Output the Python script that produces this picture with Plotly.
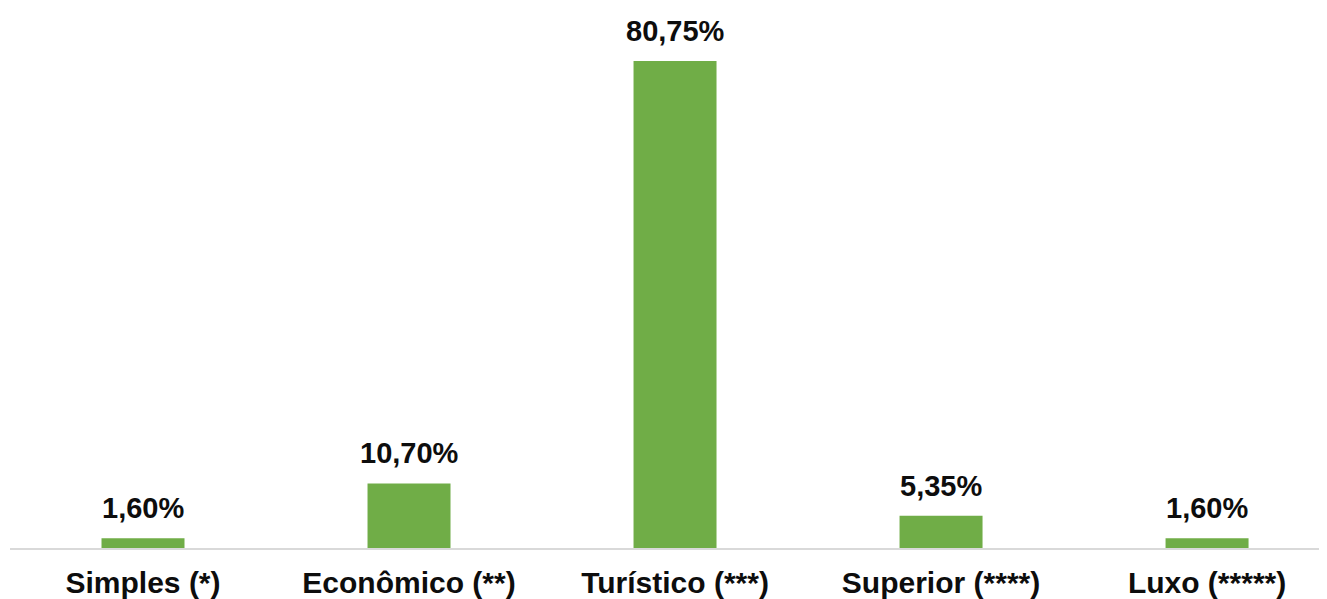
import plotly.graph_objects as go

categorias = ["Simples (*)", "Econômico (**)", "Turístico (***)", "Superior (****)", "Luxo (*****)"]
percentuais = [1.60, 10.70, 80.75, 5.35, 1.60]

VERDE = "#70AD47"
FONTE = "Liberation Sans, Arial, sans-serif"


def rotulo(v: float) -> str:
    return f"{v:.2f}".replace(".", ",") + "%"


def main() -> None:
    fig = go.Figure(
        go.Bar(
            x=categorias,
            y=percentuais,
            marker=dict(color=VERDE, line=dict(width=0)),
            width=0.312,
            hoverinfo="skip",
        )
    )

    for cat, v in zip(categorias, percentuais):
        fig.add_annotation(
            x=cat,
            y=v,
            text=f"<b>{rotulo(v)}</b>",
            showarrow=False,
            yanchor="bottom",
            yshift=12,
            font=dict(family=FONTE, size=29, color="#0D0D0D"),
        )

    fig.update_layout(
        width=1327,
        height=599,
        margin=dict(l=2, r=0, t=0, b=59),
        paper_bgcolor="white",
        plot_bgcolor="white",
        showlegend=False,
        font=dict(family=FONTE, size=29, color="#0D0D0D"),
    )
    fig.update_xaxes(
        range=[-0.5, 4.481],
        showline=True,
        linecolor="#D9D9D9",
        linewidth=2,
        showgrid=False,
        ticks="",
        ticklabelstandoff=7,
        tickfont=dict(family=FONTE, size=30, color="#0D0D0D", weight="bold"),
    )
    fig.update_yaxes(
        range=[0, 80.75 * 540 / 487],
        visible=False,
        showgrid=False,
        zeroline=False,
    )

    fig.write_html("out.html")


if __name__ == "__main__":
    main()
